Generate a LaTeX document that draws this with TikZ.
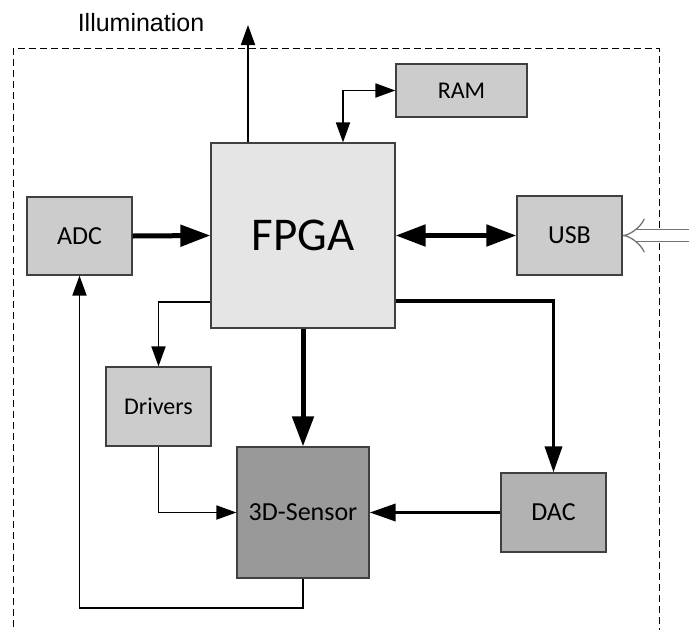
\documentclass[tikz,border=0pt]{standalone}
\usepackage{fontspec}
\setmainfont{Carlito}
\newfontfamily\illumfont{Liberation Sans}
\usetikzlibrary{arrows.meta}

\tikzset{
  block/.style={draw=black!75, line width=1.2pt, fill=black!20, minimum width=105pt, minimum height=79pt, inner sep=0pt, font=\fontsize{26}{30}\selectfont},
  thinarr/.style={line width=1.8pt, >={Triangle[length=20pt,width=14pt]}, ->},
  midarr/.style={line width=3.5pt, >={Triangle[length=26pt,width=17pt]}, ->},
  thickarr/.style={line width=5pt, >={Triangle[length=30pt,width=21pt]}, ->},
  hollow/.style={draw=black!55, line width=1.3pt, double distance=11pt, -{Implies}},
}

\begin{document}
\begin{tikzpicture}[x=1pt,y=-1pt]
\useasboundingbox (0,0) rectangle (689,630);
\draw[dash pattern=on 7pt off 4pt, line width=1pt] (13,48) rectangle (659,640);

\node[block, fill=black!10, minimum width=184pt, minimum height=185pt, font=\fontsize{47}{52}\selectfont] (FPGA) at (303,235.5) {FPGA};
\node[block, minimum width=131pt, minimum height=53pt, font=\fontsize{24}{28}\selectfont] (RAM) at (461.5,90.5) {RAM};
\node[block] (USB) at (569.5,235.5) {USB};
\node[block, minimum height=78pt] (ADC) at (79.5,236) {ADC};
\node[block, font=\fontsize{24}{28}\selectfont] (Drivers) at (158.5,406.5) {Drivers};
\node[block, fill=black!40, minimum width=132pt, minimum height=131pt] (Sensor) at (303,512.5) {3D-Sensor};
\node[block, fill=black!30] (DAC) at (553.5,512.5) {DAC};
\node[font=\illumfont\fontsize{25}{30}\selectfont] (Illum) at (141,23) {Illumination};
\coordinate (light) at (248,25);
\coordinate (host) at (700,235.5);

\draw[thinarr] ([xshift=-55pt]FPGA.north) -- (light);
\draw[thinarr, <->] (RAM.west) -| ([xshift=40pt]FPGA.north);
\draw[thickarr] (ADC.east) -- (FPGA.west);
\draw[thickarr, <->] (FPGA.east) -- (USB.west);
\draw[hollow] (host) -- (USB.east);
\draw[thinarr] ([yshift=-66.5pt]FPGA.west) -| (Drivers.north);
\draw[thickarr] (FPGA.south) -- (Sensor.north);
\draw[midarr] ([yshift=-65.5pt]FPGA.east) -| (DAC.north);
\draw[midarr] (DAC.west) -- (Sensor.east);
\draw[thinarr] (Drivers.south) |- (Sensor.west);
\draw[thinarr] (Sensor.south) -- ++(0,29) -| (ADC.south);
\end{tikzpicture}
\end{document}
